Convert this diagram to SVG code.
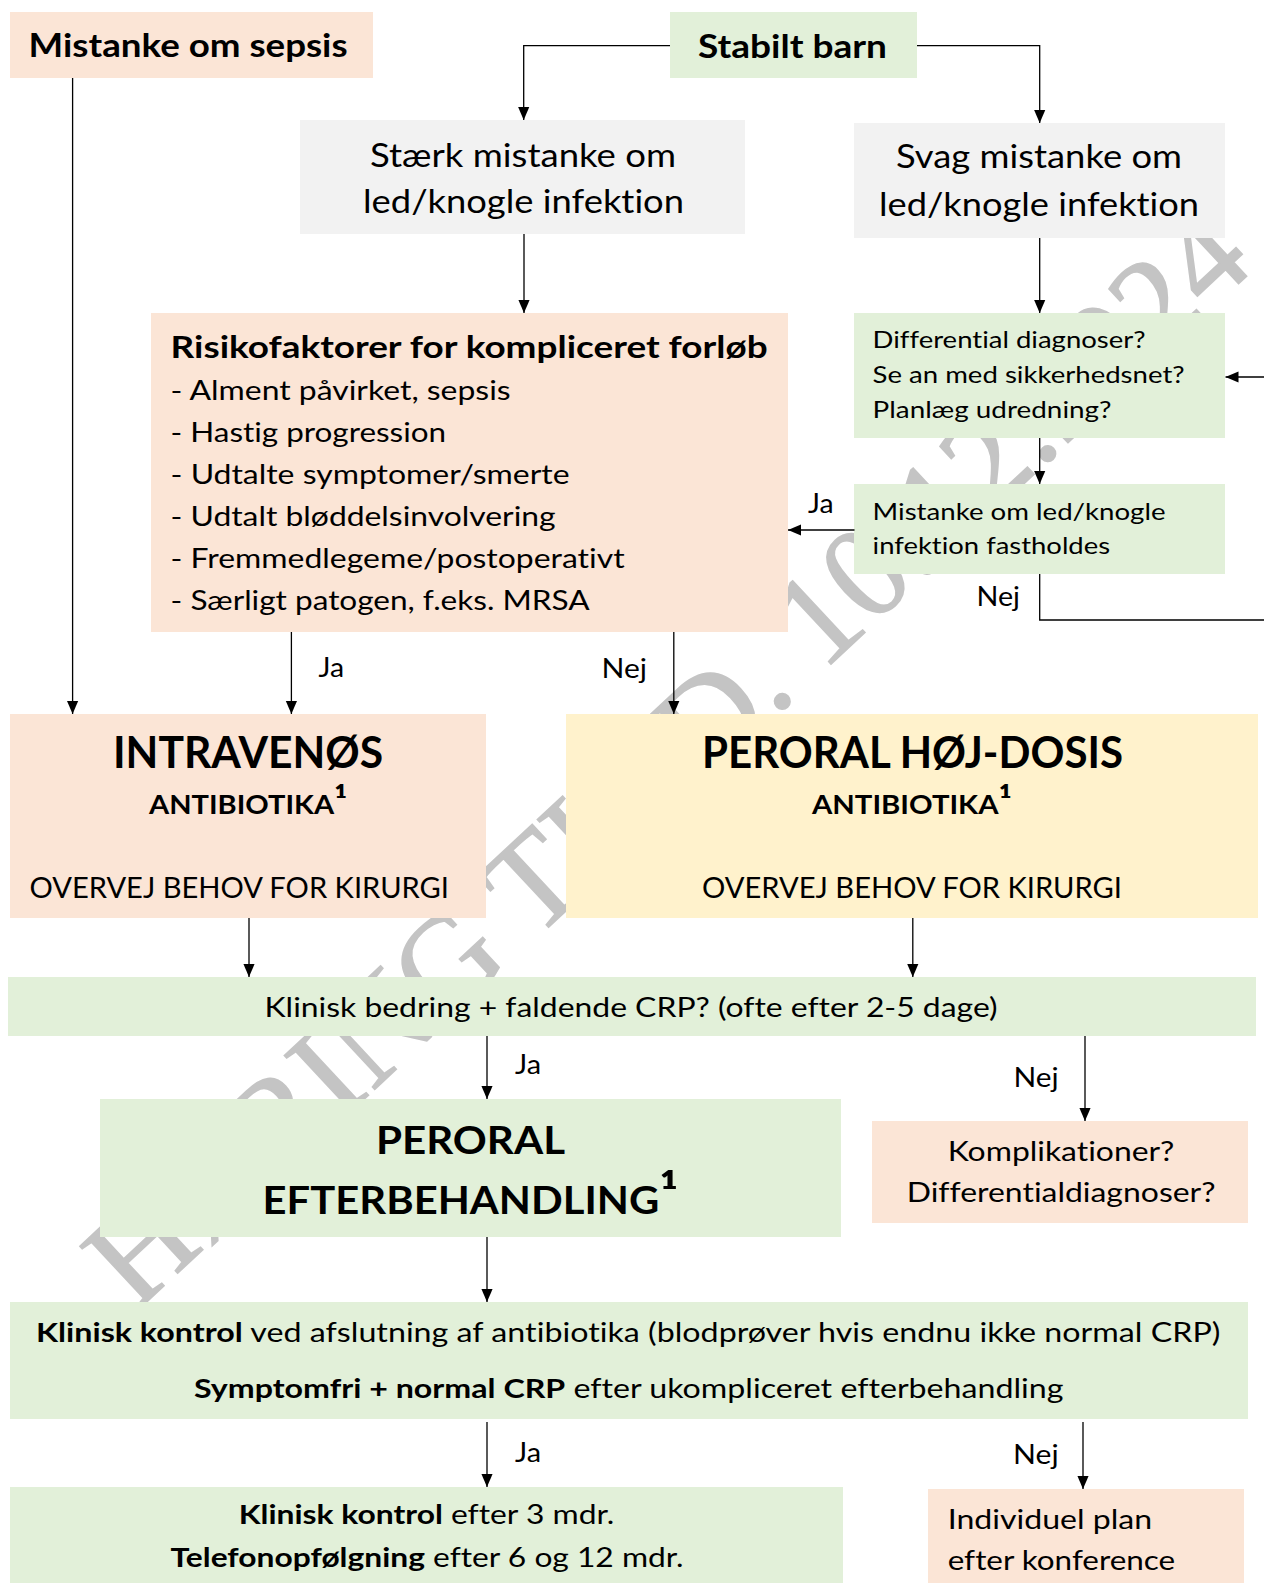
<svg xmlns="http://www.w3.org/2000/svg" width="1264" height="1583" viewBox="0 0 1264 1583">
<defs>
<marker id="arr" viewBox="0 0 14 12" refX="14" refY="6" markerWidth="13" markerHeight="12" orient="auto" markerUnits="userSpaceOnUse">
<path d="M0,0 L14,6 L0,12 z" fill="#000"/>
</marker>
<style>
.t{font-family:Lato,"Open Sans","Liberation Sans",sans-serif;fill:#000;font-variant-ligatures:none;font-feature-settings:"liga" 0,"dlig" 0}
.b{font-weight:bold}
.peach{fill:#FBE5D6}
.green{fill:#E2F0D9}
.gray{fill:#F2F2F2}
.yellow{fill:#FFF2CC}
.conn path{fill:none;stroke:#000;stroke-width:1.3;marker-end:url(#arr)}
.wm{font-family:"Liberation Serif","Times New Roman",serif;font-size:132px;fill:#C4C4C4;stroke:#C4C4C4;stroke-width:1.5}
</style>
</defs>
<rect width="1264" height="1583" fill="#fff"/>
<text class="wm" transform="translate(136,1312) rotate(-43)">HØRING TIL D. 10.12.2024</text>

<g id="n-sepsis"><rect class="peach" x="10" y="12" width="363" height="66"/>
<text class="t b" x="28.6" y="57" font-size="33" textLength="319" lengthAdjust="spacingAndGlyphs">Mistanke om sepsis</text></g>
<g id="n-stabilt"><rect class="green" x="670" y="12" width="247" height="66"/>
<text class="t b" x="698" y="58" font-size="33" textLength="189" lengthAdjust="spacingAndGlyphs">Stabilt barn</text></g>
<g id="n-staerk"><rect class="gray" x="300" y="120" width="445" height="114"/>
<text class="t" x="370" y="167" font-size="33" textLength="306" lengthAdjust="spacingAndGlyphs">Stærk mistanke om</text>
<text class="t" x="363" y="213" font-size="33" textLength="321" lengthAdjust="spacingAndGlyphs">led/knogle infektion</text></g>
<g id="n-svag"><rect class="gray" x="854" y="123" width="371" height="115"/>
<text class="t" x="896" y="168" font-size="33" textLength="286" lengthAdjust="spacingAndGlyphs">Svag mistanke om</text>
<text class="t" x="879" y="216" font-size="33" textLength="320" lengthAdjust="spacingAndGlyphs">led/knogle infektion</text></g>
<g id="n-risiko"><rect class="peach" x="151" y="313" width="637" height="319"/>
<text class="t b" x="170.6" y="358" font-size="30.5" textLength="597" lengthAdjust="spacingAndGlyphs">Risikofaktorer for kompliceret forløb</text>
<text class="t" x="170.6" y="400" font-size="26" textLength="340" lengthAdjust="spacingAndGlyphs">- Alment påvirket, sepsis</text>
<text class="t" x="170.6" y="442" font-size="26" textLength="275.5" lengthAdjust="spacingAndGlyphs">- Hastig progression</text>
<text class="t" x="170.6" y="484" font-size="26" textLength="399" lengthAdjust="spacingAndGlyphs">- Udtalte symptomer/smerte</text>
<text class="t" x="170.6" y="526" font-size="26" textLength="385" lengthAdjust="spacingAndGlyphs">- Udtalt bløddelsinvolvering</text>
<text class="t" x="170.6" y="568" font-size="26" textLength="454" lengthAdjust="spacingAndGlyphs">- Fremmedlegeme/postoperativt</text>
<text class="t" x="170.6" y="610" font-size="26" textLength="419" lengthAdjust="spacingAndGlyphs">- Særligt patogen, f.eks. MRSA</text></g>
<g id="n-diff"><rect class="green" x="854" y="313" width="371" height="125"/>
<text class="t" x="872.6" y="348" font-size="23.5" textLength="273" lengthAdjust="spacingAndGlyphs">Differential diagnoser?</text>
<text class="t" x="872.6" y="383" font-size="23.5" textLength="312" lengthAdjust="spacingAndGlyphs">Se an med sikkerhedsnet?</text>
<text class="t" x="872.6" y="418" font-size="23.5" textLength="239" lengthAdjust="spacingAndGlyphs">Planlæg udredning?</text></g>
<g id="n-fasthold"><rect class="green" x="854" y="484" width="371" height="90"/>
<text class="t" x="872.6" y="520" font-size="23.5" textLength="293" lengthAdjust="spacingAndGlyphs">Mistanke om led/knogle</text>
<text class="t" x="872.6" y="554" font-size="23.5" textLength="237.5" lengthAdjust="spacingAndGlyphs">infektion fastholdes</text></g>
<g id="n-iv"><rect class="peach" x="10" y="714" width="476" height="204"/>
<text class="t b" x="113" y="768" font-size="44" textLength="270" lengthAdjust="spacingAndGlyphs">INTRAVENØS</text>
<text class="t b" x="149" y="814" font-size="26" textLength="198.5" lengthAdjust="spacingAndGlyphs">ANTIBIOTIKA<tspan font-size="36">¹</tspan></text>
<text class="t" x="29.5" y="898" font-size="28.5" textLength="419.5" lengthAdjust="spacingAndGlyphs">OVERVEJ BEHOV FOR KIRURGI</text></g>
<g id="n-po"><rect class="yellow" x="566" y="714" width="692" height="204"/>
<text class="t b" x="702" y="768" font-size="44" textLength="421" lengthAdjust="spacingAndGlyphs">PERORAL HØJ-DOSIS</text>
<text class="t b" x="812" y="814" font-size="26" textLength="200" lengthAdjust="spacingAndGlyphs">ANTIBIOTIKA<tspan font-size="36">¹</tspan></text>
<text class="t" x="702" y="898" font-size="28.5" textLength="420" lengthAdjust="spacingAndGlyphs">OVERVEJ BEHOV FOR KIRURGI</text></g>
<g id="n-bedring"><rect class="green" x="8" y="977" width="1248" height="59"/>
<text class="t" x="264.5" y="1016.5" font-size="26" textLength="733" lengthAdjust="spacingAndGlyphs">Klinisk bedring + faldende CRP? (ofte efter 2-5 dage)</text></g>
<g id="n-efterbeh"><rect class="green" x="100" y="1099" width="741" height="138"/>
<text class="t b" x="376" y="1154" font-size="39" textLength="189" lengthAdjust="spacingAndGlyphs">PERORAL</text>
<text class="t b" x="262.6" y="1213.5" font-size="39" textLength="416" lengthAdjust="spacingAndGlyphs">EFTERBEHANDLING<tspan font-size="54">¹</tspan></text></g>
<g id="n-kompl"><rect class="peach" x="872" y="1121" width="376" height="102"/>
<text class="t" x="947.7" y="1160.7" font-size="27" textLength="226.7" lengthAdjust="spacingAndGlyphs">Komplikationer?</text>
<text class="t" x="906.7" y="1201.7" font-size="27" textLength="308.8" lengthAdjust="spacingAndGlyphs">Differentialdiagnoser?</text></g>
<g id="n-kontrol"><rect class="green" x="10" y="1302" width="1238" height="117"/>
<text class="t" x="36" y="1342.3" font-size="27" textLength="1184.4" lengthAdjust="spacingAndGlyphs"><tspan class="b">Klinisk kontrol</tspan> ved afslutning af antibiotika (blodprøver hvis endnu ikke normal CRP)</text>
<text class="t" x="194" y="1398.3" font-size="27" textLength="869.5" lengthAdjust="spacingAndGlyphs"><tspan class="b">Symptomfri + normal CRP</tspan> efter ukompliceret efterbehandling</text></g>
<g id="n-final"><rect class="green" x="10" y="1487" width="833" height="96"/>
<text class="t" x="238.8" y="1524.3" font-size="27" textLength="375.5" lengthAdjust="spacingAndGlyphs"><tspan class="b">Klinisk kontrol</tspan> efter 3 mdr.</text>
<text class="t" x="170.6" y="1567.3" font-size="27" textLength="513" lengthAdjust="spacingAndGlyphs"><tspan class="b">Telefonopfølgning</tspan> efter 6 og 12 mdr.</text></g>
<g id="n-individuel"><rect class="peach" x="928" y="1489" width="316" height="94"/>
<text class="t" x="947.7" y="1529.3" font-size="27" textLength="204.5" lengthAdjust="spacingAndGlyphs">Individuel plan</text>
<text class="t" x="947.7" y="1570" font-size="27" textLength="227.5" lengthAdjust="spacingAndGlyphs">efter konference</text></g>

<g id="connectors" class="conn">
<path d="M670,45.7 H523.7 V120"/>
<path d="M917,45.7 H1039.7 V123"/>
<path d="M524,234 V313"/>
<path d="M1039.7,238 V313"/>
<path d="M1039.7,438 V484"/>
<path d="M854.5,530 H788"/>
<path d="M1039.7,574 V620 H1270 V377 H1225.5"/>
<path d="M72.6,78 V714"/>
<path d="M291.4,632 V714"/>
<path d="M673.8,632 V714"/>
<path d="M249,918 V977"/>
<path d="M912.8,918 V977"/>
<path d="M487,1036 V1099"/>
<path d="M1085,1036 V1121"/>
<path d="M487,1237 V1302"/>
<path d="M487,1422 V1487"/>
<path d="M1083,1422 V1489"/>
</g>
<g id="labels">
<text class="t" x="808" y="513" font-size="26" textLength="25.5" lengthAdjust="spacingAndGlyphs">Ja</text>
<text class="t" x="976.5" y="606" font-size="26" textLength="43.5" lengthAdjust="spacingAndGlyphs">Nej</text>
<text class="t" x="318.5" y="677" font-size="26" textLength="25.5" lengthAdjust="spacingAndGlyphs">Ja</text>
<text class="t" x="601.5" y="678" font-size="26" textLength="45.5" lengthAdjust="spacingAndGlyphs">Nej</text>
<text class="t" x="515" y="1074" font-size="26" textLength="26" lengthAdjust="spacingAndGlyphs">Ja</text>
<text class="t" x="1013.4" y="1087" font-size="26" textLength="45.2" lengthAdjust="spacingAndGlyphs">Nej</text>
<text class="t" x="515" y="1462" font-size="26" textLength="26" lengthAdjust="spacingAndGlyphs">Ja</text>
<text class="t" x="1013" y="1464.3" font-size="26" textLength="45.6" lengthAdjust="spacingAndGlyphs">Nej</text>
</g>
</svg>
